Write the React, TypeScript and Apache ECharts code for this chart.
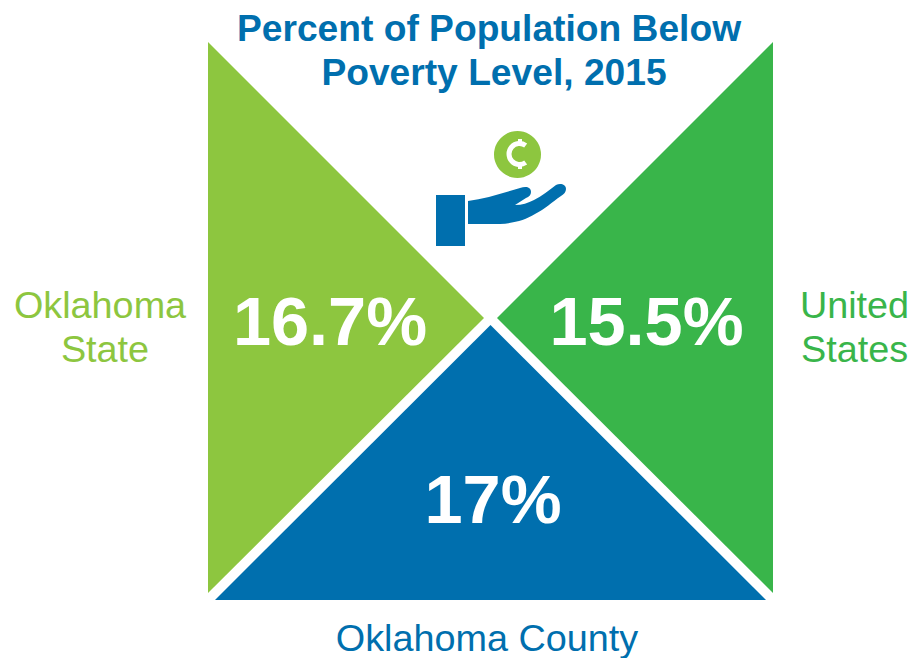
import React, { useEffect, useRef } from "react";
import * as echarts from "echarts";

const titleLines = ["Percent of Population Below", "Poverty Level, 2015"];
const stateLines = ["Oklahoma", "State"];
const nationLines = ["United", "States"];
const countyName = "Oklahoma County";
const povertyRates = ["16.7%", "15.5%", "17%"];

const LIME = "#8dc63f";
const GREEN = "#39b54a";
const BLUE = "#006fae";
const FONT = '"Liberation Sans", Arial, sans-serif';

// Open hand holding the coin: palm and thumb, then the fingers.
const HAND_PATH =
  "M468 201 C485 199 503 193 520 188 C526 186 531 187 531 192 C531 195 529 197 526 198 L515 205 C522 205 528 203 534 200 C542 196 549 190 556 185 C560 183 566 184 566 189 C566 192 564 194 561 196 C552 202 545 209 535 214 C525 220 515 223 500 224 L468 224 Z";
echarts.graphic.registerShape("openHand", echarts.graphic.extendPath(HAND_PATH, {}));

const label = (text: string, x: number, y: number, fill: string, fontSize: number, fontWeight = "normal") => ({
  type: "text",
  x,
  y,
  style: { text, fill, fontSize, fontWeight, fontFamily: FONT, align: "center", verticalAlign: "middle" },
});

export default function App() {
  const ref = useRef<HTMLDivElement>(null);

  useEffect(() => {
    const chart = echarts.init(ref.current!, undefined, { renderer: "svg" });
    chart.setOption({
      animation: false,
      backgroundColor: "#ffffff",
      graphic: [
        { type: "polygon", shape: { points: [[208, 42], [208, 593], [484, 318]] }, style: { fill: LIME } },
        { type: "polygon", shape: { points: [[773, 42], [773, 593], [497, 318]] }, style: { fill: GREEN } },
        { type: "polygon", shape: { points: [[490.5, 325], [766, 600], [215, 600]] }, style: { fill: BLUE } },
        { type: "rect", shape: { x: 436, y: 195, width: 29, height: 51 }, style: { fill: BLUE } },
        { type: "openHand", style: { fill: BLUE } },
        { type: "circle", shape: { cx: 517.5, cy: 154.5, r: 23.5 }, style: { fill: LIME } },
        {
          type: "arc",
          shape: { cx: 519.5, cy: 154, r: 10.5, startAngle: Math.PI * 0.3, endAngle: Math.PI * 1.7, clockwise: true },
          style: { fill: "none", stroke: "#ffffff", lineWidth: 5, lineCap: "butt" },
        },
        { type: "line", shape: { x1: 520, y1: 139, x2: 520, y2: 145 }, style: { stroke: "#ffffff", lineWidth: 4 } },
        { type: "line", shape: { x1: 520, y1: 163, x2: 520, y2: 169 }, style: { stroke: "#ffffff", lineWidth: 4 } },
        label(titleLines[0], 489, 28, BLUE, 37.2, "bold"),
        label(titleLines[1], 494, 72, BLUE, 37.2, "bold"),
        label(stateLines[0], 100, 305, LIME, 37.8),
        label(stateLines[1], 105, 349, LIME, 37.8),
        label(nationLines[0], 854.5, 305, GREEN, 37.8),
        label(nationLines[1], 854.5, 349, GREEN, 37.8),
        label(countyName, 487, 637.5, BLUE, 37.8),
        label(povertyRates[0], 330, 321.5, "#ffffff", 68.5, "bold"),
        label(povertyRates[1], 646.5, 321.5, "#ffffff", 68.5, "bold"),
        label(povertyRates[2], 493, 499.5, "#ffffff", 68.5, "bold"),
      ],
    });
    return () => chart.dispose();
  }, []);

  return <div ref={ref} style={{ position: "absolute", left: 0, top: 0, width: 909, height: 658 }} />;
}
